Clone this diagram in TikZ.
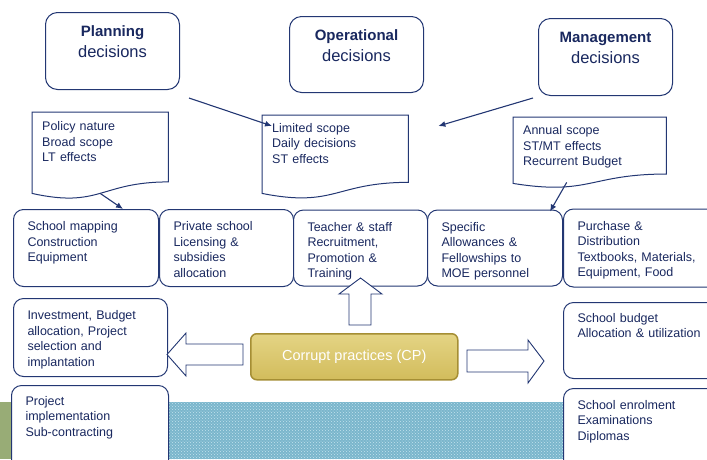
\documentclass[tikz,border=0pt]{standalone}
\usepackage{fontspec}
\setmainfont{Liberation Sans}
\usepackage{xcolor}
\usetikzlibrary{arrows.meta,positioning,calc,patterns}

\definecolor{navyline}{RGB}{35,55,115}
\definecolor{navytext}{RGB}{25,40,95}
\definecolor{cpdark}{RGB}{165,142,52}
\definecolor{cpmid}{RGB}{210,188,92}
\definecolor{cplight}{RGB}{228,212,132}
\definecolor{stripblue}{RGB}{122,182,204}
\definecolor{stripdot}{RGB}{196,226,238}
\definecolor{stripgreen}{RGB}{152,172,118}

\begin{document}
\begin{tikzpicture}[
  x=1pt, y=-1pt,
  font=\fontsize{12.5}{15.5}\selectfont, text=navytext,
  deci/.style={draw=navyline, line width=1pt, rounded corners=12pt, fill=white, anchor=north west,
    align=center, text width=122pt, inner xsep=6pt, inner ysep=13pt, text height=11pt, text depth=40pt,
    font=\fontsize{16.5}{20.6}\selectfont},
  cell/.style={draw=navyline, line width=1pt, rounded corners=10pt, fill=white, anchor=north west,
    align=left, inner xsep=14pt, inner ysep=12pt, text height=9pt},
  note/.style={anchor=north west, align=left, inner xsep=10pt, text height=9pt},
  docline/.style={draw=navyline, line width=1pt},
  cp/.style={draw=cpdark, line width=1.5pt, rounded corners=6pt, top color=cplight, bottom color=cpmid,
    anchor=north west, minimum width=207pt, minimum height=46pt, inner sep=0pt, text=white,
    font=\fontsize{14.5}{17}\selectfont},
  blockarr/.style={draw=navyline, line width=0.9pt, fill=white},
  arr/.style={-{Latex[length=7pt,width=6pt]}, draw=navyline, line width=1.1pt}
]
  \useasboundingbox (0,0) rectangle (707,459);
  \clip (0,0) rectangle (707,459);

  % bottom strip
  \fill[stripblue] (0,402) rectangle (707,459);
  \fill[pattern=crosshatch dots, pattern color=stripdot] (60,402) rectangle (707,459);
  \fill[stripgreen] (0,402) rectangle (60,459);

  % decision kinds
  \node[deci] (planning) at (45,12) {{\fontsize{15}{20.6}\selectfont\bfseries Planning}\\decisions};
  \node[deci, text depth=39pt] (operational) at (289,16) {{\fontsize{15}{20.6}\selectfont\bfseries Operational}\\decisions};
  \node[deci] (management) at (538,18) {{\fontsize{15}{20.6}\selectfont\bfseries Management}\\decisions};

  % scope notes
  \node[note, text width=116pt, inner ysep=9.5pt, text depth=53pt] (policy) at (32,112) {Policy nature\\Broad scope\\LT effects};
  \node[note, text width=126pt, inner ysep=8pt, text depth=53pt] (limited) at (262,115) {Limited scope\\Daily decisions\\ST effects};
  \node[note, text width=133pt, inner ysep=8.5pt, text depth=40pt] (annual) at (513,117) {Annual scope\\ST/MT effects\\Recurrent Budget};
  \foreach \d in {policy,limited,annual}
    \draw[docline] (\d.north west) -- (\d.north east) -- ($(\d.south east)!0.141!(\d.north east)$)
      .. controls ($(\d.south)!0.141!(\d.north)$) and ($(\d.south)!-0.186!(\d.north)$) .. (\d.south west) -- cycle;

  % areas exposed
  \node[cell, text width=117pt, text depth=44pt] (mapping) at (13,209) {School mapping\\Construction\\Equipment};
  \node[cell, text width=106pt, text depth=44pt, right=0pt of mapping] (private) {Private school\\Licensing \&\\subsidies\\allocation};
  \node[cell, text width=106pt, text depth=43pt, right=-1pt of private] (teacher) {Teacher \& staff\\Recruitment,\\Promotion \&\\Training};
  \node[cell, text width=107pt, text depth=43pt, right=-1pt of teacher] (specific) {Specific\\Allowances \&\\Fellowships to\\MOE personnel};
  \node[cell, text width=132pt, text depth=45pt, right=0pt of specific] (purchase) {Purchase \&\\Distribution\\Textbooks, Materials,\\Equipment, Food};
  \node[cell, text width=126pt, text depth=45pt] (investment) at (13,298) {Investment, Budget\\allocation, Project\\selection and\\implantation};
  \node[cell, text width=129pt, inner ysep=10.5pt, text depth=60pt] (project) at (11,385) {Project\\implementation\\Sub-contracting};
  \node[cell, text width=132pt, inner ysep=10.5pt, text depth=46pt] (budget) at (563,302) {School budget\\Allocation \& utilization};
  \node[cell, text width=132pt, inner ysep=11.5pt, text depth=57pt] (enrolment) at (563,388) {School enrolment\\Examinations\\Diplomas};

  % corrupt practices
  \node[cp] (cpr) at (250,333) {Corrupt practices (CP)};
  \draw[blockarr] (349,325) -- (349,294) -- (339,294) -- (360.5,278) -- (382,294) -- (371,294) -- (371,325) -- cycle;
  \draw[blockarr] (243,344) -- (186,344) -- (186,333) -- (167,354.5) -- (186,376) -- (186,365) -- (243,365) -- cycle;
  \draw[blockarr] (467,350) -- (528,350) -- (528,340) -- (544,361) -- (528,383) -- (528,372) -- (467,372) -- cycle;

  % pointers
  \coordinate (pfrom) at ($(planning.south east)+(9,8)$);
  \coordinate (pto) at ($(limited.north west)+(10,11)$);
  \coordinate (mfrom) at ($(management.south west)+(-5,2)$);
  \coordinate (mto) at ($(limited.north east)+(30,11)$);
  \draw[arr] (pfrom) -- (pto);
  \draw[arr] (mfrom) -- (mto);
  \draw[arr] (policy.south) -- ($(mapping.north)+(37,0)$);
  \draw[arr] ($(annual.south)+(-23,-1)$) -- ($(specific.north east)+(-13,2)$);
\end{tikzpicture}
\end{document}
